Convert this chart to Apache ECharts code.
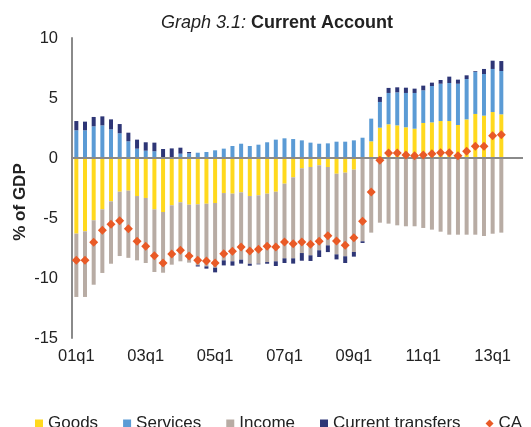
<!DOCTYPE html>
<html>
<head>
<meta charset="utf-8">
<script src="https://cdn.jsdelivr.net/npm/echarts@6/dist/echarts.min.js"></script>
<style>
  html, body { margin: 0; padding: 0; background: #fff; }
  #container { width: 531px; height: 427px; }
</style>
</head>
<body>
<div id="container"></div>
<script>
// quarters 01q1 .. 13q4 (last two quarters have no data)
var quarters = [];
for (var y = 1; y <= 13; y++) {
    for (var q = 1; q <= 4; q++) {
        quarters.push((y < 10 ? "0" + y : "" + y) + "q" + q);
    }
}

// % of GDP
var goods = [-6.3, -6.11, -5.19, -4.28, -3.61, -2.81, -2.72, -3.17, -3.33, -4.28,
    -4.5, -3.94, -3.69, -3.89, -3.86, -3.81, -3.75, -2.92, -2.97, -2.86,
    -3.17, -3.11, -2.97, -2.81, -2.14, -1.61, -0.86, -0.75, -0.61, -0.75,
    -1.31, -1.22, -0.97, 0, 1.39, 2.53, 2.81, 2.72, 2.56, 2.44,
    2.92, 2.97, 3.08, 3.08, 2.75, 3.22, 3.67, 3.53, 3.83, 3.64];
var services = [2.31, 2.31, 2.64, 2.72, 2.39, 2.06, 1.39, 0.78, 0.61, 0.56,
    0, 0, 0.36, 0.39, 0.44, 0.5, 0.64, 0.78, 1.0, 1.19,
    1.0, 1.11, 1.31, 1.53, 1.64, 1.58, 1.47, 1.28, 1.19, 1.22,
    1.36, 1.36, 1.47, 1.69, 1.89, 2.14, 2.61, 2.75, 2.86, 2.98,
    2.72, 3.03, 3.11, 3.17, 3.44, 3.36, 3.52, 3.47, 3.59, 3.61];
var income = [-5.28, -5.47, -5.37, -5.3, -5.2, -5.36, -5.6, -5.36, -5.42, -5.22,
    -5.06, -4.95, -4.92, -4.83, -5.08, -5.22, -5.39, -5.61, -5.64, -5.61,
    -5.64, -5.7, -5.7, -5.8, -6.22, -6.75, -7.06, -7.36, -7.08, -6.53,
    -6.72, -6.97, -6.86, -6.94, -6.22, -5.39, -5.47, -5.61, -5.69, -5.69,
    -5.83, -5.97, -6.14, -6.39, -6.39, -6.39, -6.39, -6.5, -6.31, -6.22];
var transfers = [0.77, 0.72, 0.78, 0.75, 0.83, 0.77, 0.72, 0.75, 0.7, 0.72,
    0.75, 0.8, 0.5, 0.11, -0.1, -0.19, -0.39, -0.42, -0.36, -0.33,
    -0.17, -0.05, -0.14, -0.39, -0.39, -0.44, -0.64, -0.47, -0.56, -0.56,
    -0.42, -0.56, -0.39, -0.14, 0, 0.42, 0.42, 0.42, 0.44, 0.36,
    0.39, 0.28, 0.31, 0.53, 0.34, 0.31, 0.06, 0.42, 0.69, 0.83];
var ca = [-8.53, -8.53, -7.03, -6.03, -5.53, -5.22, -5.9, -6.94, -7.36, -8.14,
    -8.75, -8.0, -7.69, -8.17, -8.53, -8.58, -8.75, -7.97, -7.78, -7.42,
    -7.75, -7.61, -7.36, -7.42, -7.0, -7.14, -7.0, -7.19, -6.94, -6.47,
    -6.92, -7.28, -6.64, -5.28, -2.83, -0.19, 0.42, 0.42, 0.25, 0.19,
    0.25, 0.36, 0.44, 0.44, 0.19, 0.56, 0.97, 0.97, 1.86, 1.94];

var font = "Arial, 'Liberation Sans', sans-serif";

function barSeries(name, data, color) {
    return {
        name: name,
        type: "bar",
        stack: "ca",
        barWidth: 4,
        data: data,
        itemStyle: { color: color },
        emphasis: { disabled: true }
    };
}

var dom = document.getElementById("container");
var myChart = echarts.init(dom);
var option = {
    animation: false,
    textStyle: { fontFamily: font },
    title: {
        left: 156,
        top: 9,
        text: "{a|Graph 3.1:} {b|Current Account}",
        textStyle: {
            fontWeight: "normal",
            fontSize: 18,
            rich: {
                a: { fontSize: 18, fontStyle: "italic", fontWeight: "normal", color: "#222", fontFamily: font },
                b: { fontSize: 18, fontStyle: "normal", fontWeight: "bold", color: "#222", fontFamily: font }
            }
        }
    },
    graphic: [{
        type: "text",
        x: 20,
        y: 202,
        rotation: Math.PI / 2,
        style: {
            text: "% of GDP",
            font: "bold 17px " + font,
            fill: "#222",
            align: "center",
            verticalAlign: "middle"
        }
    }],
    legend: {
        top: 410,
        left: 30,
        itemWidth: 8,
        itemHeight: 8,
        itemGap: 25,
        textStyle: { fontSize: 17, color: "#222", fontFamily: font },
        data: [
            { name: "Goods", icon: "rect" },
            { name: "Services", icon: "rect" },
            { name: "Income", icon: "rect" },
            { name: "Current transfers", icon: "rect" },
            { name: "CA", icon: "diamond" }
        ]
    },
    grid: { left: 72, right: 8, top: 38, bottom: 89 },
    xAxis: {
        type: "category",
        data: quarters,
        axisLine: { show: false },
        axisTick: { show: false },
        axisLabel: { interval: 7, fontSize: 16.5, color: "#222", margin: 10 }
    },
    yAxis: {
        type: "value",
        min: -15,
        max: 10,
        interval: 5,
        axisLine: { show: true, lineStyle: { color: "#8a8a8a", width: 2 } },
        axisTick: { show: false },
        splitLine: { show: false },
        axisLabel: { fontSize: 16.5, color: "#222", margin: 14 }
    },
    series: [
        Object.assign(barSeries("Goods", goods, "#FFD91E"), {
            markLine: {
                silent: true,
                symbol: "none",
                label: { show: false },
                lineStyle: { color: "#8a8a8a", width: 2, type: "solid" },
                data: [{ yAxis: 0 }]
            }
        }),
        barSeries("Services", services, "#5B9BD5"),
        barSeries("Income", income, "#B8ACA4"),
        barSeries("Current transfers", transfers, "#2E3676"),
        {
            name: "CA",
            type: "line",
            data: ca,
            symbol: "diamond",
            symbolSize: 9,
            showAllSymbol: true,
            lineStyle: { width: 0, opacity: 0 },
            itemStyle: { color: "#E95A26" },
            z: 5,
            emphasis: { disabled: true }
        }
    ]
};
myChart.setOption(option);
</script>
</body>
</html>
